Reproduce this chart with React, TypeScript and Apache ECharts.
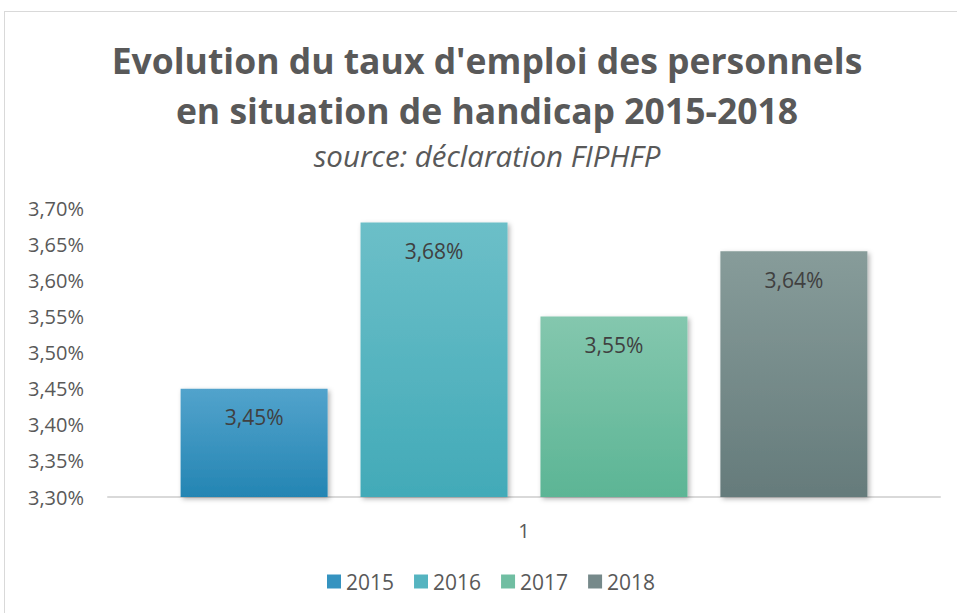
import React, { useEffect, useRef } from "react";
import * as echarts from "echarts";

const categories = ["1"];
const years = ["2015", "2016", "2017", "2018"];
const values = [3.45, 3.68, 3.55, 3.64];
const topColors = ["#52a3cc", "#6cbfc8", "#84c7ae", "#879c9a"];
const bottomColors = ["#2485b3", "#42aab8", "#5cb595", "#657b7b"];
const legendColors = ["#3593c0", "#55b4c0", "#70bea2", "#76898a"];

const fmt = (v: number) => v.toFixed(2).replace(".", ",") + "%";

export default function App() {
  const ref = useRef<HTMLDivElement>(null);
  useEffect(() => {
    const chart = echarts.init(ref.current!, undefined, { renderer: "svg" });
    const font = "'Open Sans', sans-serif";
    chart.setOption({
      animation: false,
      backgroundColor: "#ffffff",
      title: [
        {
          text: "Evolution du taux d'emploi des personnels\nen situation de handicap 2015-2018",
          left: 482,
          textAlign: "center",
          top: 30,
          textStyle: {
            fontFamily: font,
            fontSize: 35.5,
            fontWeight: "bold",
            color: "#595959",
            lineHeight: 50,
          },
        },
        {
          text: "source: déclaration FIPHFP",
          left: 482,
          textAlign: "center",
          top: 135,
          textStyle: {
            fontFamily: font,
            fontSize: 29.5,
            fontStyle: "italic",
            fontWeight: "normal",
            color: "#595959",
          },
        },
      ],
      legend: {
        bottom: 16,
        left: 322,
        itemWidth: 14,
        itemHeight: 14,
        itemGap: 20,
        icon: "rect",
        textStyle: { fontFamily: font, fontSize: 21, color: "#595959" },
        data: years.map((y, i) => ({ name: y, itemStyle: { color: legendColors[i] } })),
      },
      grid: { left: 108, right: 17, top: 208, bottom: 116 },
      xAxis: {
        type: "category",
        data: categories,
        axisLine: { lineStyle: { color: "#d9d9d9", width: 2 } },
        axisTick: { show: false },
        axisLabel: { fontFamily: font, fontSize: 20, color: "#595959", margin: 23 },
      },
      yAxis: {
        type: "value",
        min: 3.3,
        max: 3.7,
        interval: 0.05,
        splitLine: { show: false },
        axisLine: { show: false },
        axisTick: { show: false },
        axisLabel: {
          fontFamily: font,
          fontSize: 20,
          color: "#595959",
          margin: 24,
          formatter: (v: number) => fmt(v),
        },
      },
      series: years.map((y, i) => ({
        name: y,
        type: "bar",
        barWidth: 147,
        barGap: "22.4%",
        data: [values[i]],
        itemStyle: {
          color: new echarts.graphic.LinearGradient(0, 0, 0, 1, [
            { offset: 0, color: topColors[i] },
            { offset: 1, color: bottomColors[i] },
          ]),
          shadowColor: "rgba(0,0,0,0.3)",
          shadowBlur: 5,
          shadowOffsetX: 2,
          shadowOffsetY: 2,
        },
        label: {
          show: true,
          position: "insideTop",
          distance: 18,
          fontFamily: font,
          fontSize: 21,
          color: "#404040",
          formatter: (p: any) => fmt(p.value),
        },
      })),
    });
    return () => chart.dispose();
  }, []);
  return (
    <div style={{ position: "fixed", left: 0, top: 0, width: 957, height: 613, background: "#fff" }}>
      <div ref={ref} style={{ position: "absolute", left: 0, top: 0, width: 957, height: 613 }} />
      <div
        style={{
          position: "absolute",
          left: 4,
          top: 11,
          width: 970,
          height: 620,
          border: "1px solid #d9d9d9",
          boxSizing: "border-box",
          pointerEvents: "none",
        }}
      />
    </div>
  );
}
